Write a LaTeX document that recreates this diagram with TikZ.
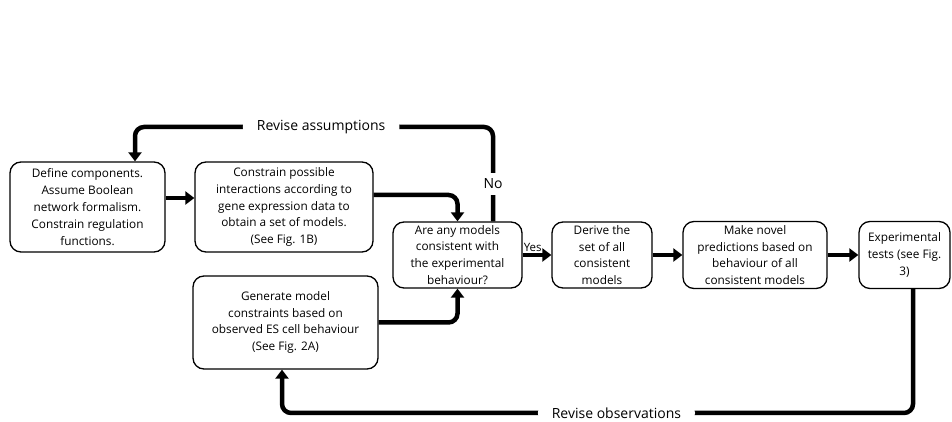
\documentclass[tikz,border=0pt]{standalone}
\usepackage{fontspec}
\setmainfont{Open Sans}
\usetikzlibrary{arrows.meta}
\begin{document}
\begin{tikzpicture}[x=1pt,y=1pt,
  stepbox/.style={draw, line width=1.3pt, rounded corners=11pt, align=center,
    inner sep=0pt, font=\fontsize{11.8}{16.8}\selectfont},
  flow/.style={line width=4.5pt, rounded corners=9pt,
    -{Triangle[width=13pt,length=9pt]}},
  lbl/.style={fill=white, font=\fontsize{14}{16}\selectfont, inner xsep=14pt}]
\useasboundingbox (0,0) rectangle (952,422);
\fill[white] (0,0) rectangle (952,422);

% process steps
\node[stepbox, minimum width=155pt, minimum height=90pt] (def) at (87.5,215)
  {Define components.\\Assume Boolean\\network formalism.\\Constrain regulation\\functions.};
\node[stepbox, minimum width=178pt, minimum height=90pt] (con) at (284,215)
  {Constrain possible\\interactions according to\\gene expression data to\\obtain a set of models.\\(See Fig. 1B)};
\node[stepbox, minimum width=129pt, minimum height=66pt] (any) at (457.5,167)
  {Are any models\\consistent with\\the experimental\\behaviour?};
\node[stepbox, minimum width=100pt, minimum height=66pt] (der) at (602,167)
  {Derive the\\set of all\\consistent\\models};
\node[stepbox, minimum width=144pt, minimum height=67pt] (pred) at (755,167)
  {Make novel\\predictions based on\\behaviour of all\\consistent models};
\node[stepbox, minimum width=91pt, minimum height=67pt] (exp) at (904.5,167)
  {Experimental\\tests (see Fig.\\3)};
\node[stepbox, minimum width=185pt, minimum height=93pt] (gen) at (285.5,99.5)
  {Generate model\\constraints based on\\observed ES cell behaviour\\(See Fig. 2A)};

% forward flow
\draw[flow] ([yshift=9pt]def.east) -- ([yshift=9pt]con.west);
\draw[flow] ([yshift=12pt]con.east) -| (any.north);
\draw[flow] (gen.east) -| (any.south);
\draw[flow] (any.east) -- node[above, pos=0.35, yshift=-2pt, font=\fontsize{11.5}{13}\selectfont] {Yes} (der.west);
\draw[flow] (der.east) -- (pred.west);
\draw[flow] (pred.east) -- (exp.west);

% feedback loops
\coordinate (noA) at ([xshift=35.5pt]any.north);
\coordinate (noB) at (493,295);
\coordinate (noC) at (135,295);
\coordinate (noD) at (def.north -| noC);
\draw[flow] (noA) -- (noB) -- node[lbl, pos=0.48] {Revise assumptions} (noC) -- (noD);
\node[fill=white, font=\fontsize{14}{16}\selectfont, inner ysep=6pt] (no) at (493,238) {No};

\coordinate (obA) at ([xshift=8.5pt]exp.south);
\coordinate (obB) at (obA |- 0,9);
\coordinate (obC) at (282,9);
\coordinate (obD) at (gen.south -| obC);
\draw[flow] (obA) -- (obB) -- node[lbl, pos=0.47] {Revise observations} (obC) -- (obD);
\end{tikzpicture}
\end{document}
